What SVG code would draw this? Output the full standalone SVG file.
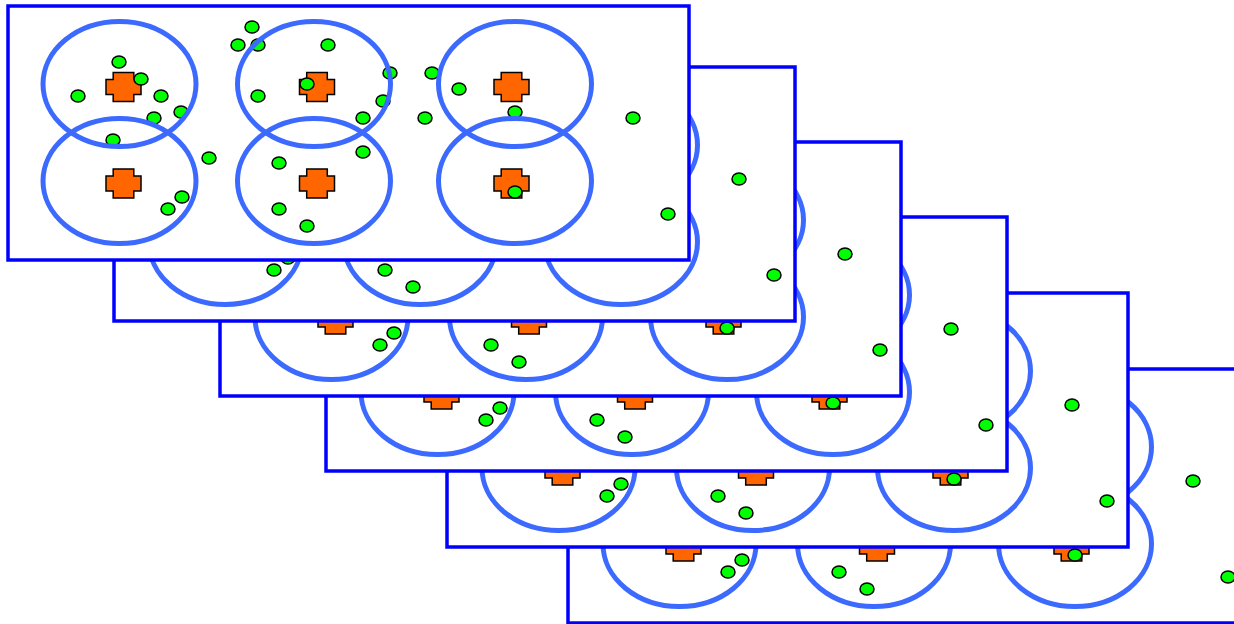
<svg xmlns="http://www.w3.org/2000/svg" xmlns:xlink="http://www.w3.org/1999/xlink" width="1234" height="624" viewBox="0 0 1234 624">
  <style>
    .frame { fill: #ffffff; stroke: #0000ff; stroke-width: 3.5; }
    .zone { fill: none; stroke: #3c6aff; stroke-width: 5; }
    .cross { fill: #ff6600; stroke: #000000; stroke-width: 1.5; }
    .dot { fill: #00ff00; stroke: #000000; stroke-width: 1.5; }
  </style>
  <defs>
    <path id="crossShape" class="cross" d="M-10.3,-14.5 H10.3 V-7.5 H17.5 V7.5 H10.3 V14.5 H-10.3 V7.5 H-17.5 V-7.5 H-10.3 Z"/>
    <g id="panel">
      <rect class="frame" x="8" y="6" width="681" height="254"/>
      <g class="crosses">
        <use href="#crossShape" x="123.5" y="87"/>
        <use href="#crossShape" x="317" y="87"/>
        <use href="#crossShape" x="511.5" y="87"/>
        <use href="#crossShape" x="123.5" y="183.5"/>
        <use href="#crossShape" x="317" y="183.5"/>
        <use href="#crossShape" x="511.5" y="183.5"/>
      </g>
      <g class="dots">
        <ellipse class="dot" cx="252" cy="27" rx="7" ry="6"/>
        <ellipse class="dot" cx="238" cy="45" rx="7" ry="6"/>
        <ellipse class="dot" cx="258" cy="45" rx="7" ry="6"/>
        <ellipse class="dot" cx="328" cy="45" rx="7" ry="6"/>
        <ellipse class="dot" cx="119" cy="62" rx="7" ry="6"/>
        <ellipse class="dot" cx="141" cy="79" rx="7" ry="6"/>
        <ellipse class="dot" cx="78" cy="96" rx="7" ry="6"/>
        <ellipse class="dot" cx="161" cy="96" rx="7" ry="6"/>
        <ellipse class="dot" cx="258" cy="96" rx="7" ry="6"/>
        <ellipse class="dot" cx="307" cy="84" rx="7" ry="6"/>
        <ellipse class="dot" cx="181" cy="112" rx="7" ry="6"/>
        <ellipse class="dot" cx="154" cy="118" rx="7" ry="6"/>
        <ellipse class="dot" cx="113" cy="140" rx="7" ry="6"/>
        <ellipse class="dot" cx="209" cy="158" rx="7" ry="6"/>
        <ellipse class="dot" cx="279" cy="163" rx="7" ry="6"/>
        <ellipse class="dot" cx="182" cy="197" rx="7" ry="6"/>
        <ellipse class="dot" cx="168" cy="209" rx="7" ry="6"/>
        <ellipse class="dot" cx="279" cy="209" rx="7" ry="6"/>
        <ellipse class="dot" cx="307" cy="226" rx="7" ry="6"/>
        <ellipse class="dot" cx="390" cy="73" rx="7" ry="6"/>
        <ellipse class="dot" cx="432" cy="73" rx="7" ry="6"/>
        <ellipse class="dot" cx="459" cy="89" rx="7" ry="6"/>
        <ellipse class="dot" cx="383" cy="101" rx="7" ry="6"/>
        <ellipse class="dot" cx="363" cy="118" rx="7" ry="6"/>
        <ellipse class="dot" cx="425" cy="118" rx="7" ry="6"/>
        <ellipse class="dot" cx="515" cy="112" rx="7" ry="6"/>
        <ellipse class="dot" cx="633" cy="118" rx="7" ry="6"/>
        <ellipse class="dot" cx="363" cy="152" rx="7" ry="6"/>
        <ellipse class="dot" cx="515" cy="192" rx="7" ry="6"/>
        <ellipse class="dot" cx="668" cy="214" rx="7" ry="6"/>
      </g>
      <g class="zones">
        <ellipse class="zone" cx="119.5" cy="84" rx="76.5" ry="62.5"/>
        <ellipse class="zone" cx="314" cy="84" rx="76.5" ry="62.5"/>
        <ellipse class="zone" cx="515" cy="84" rx="76.5" ry="62.5"/>
        <ellipse class="zone" cx="119.5" cy="181" rx="76.5" ry="62.5"/>
        <ellipse class="zone" cx="314" cy="181" rx="76.5" ry="62.5"/>
        <ellipse class="zone" cx="515" cy="181" rx="76.5" ry="62.5"/>
      </g>
    </g>
  </defs>
  <g id="frame6" transform="translate(560,363)"><use href="#panel"/></g>
  <g id="frame5" transform="translate(439,287)"><use href="#panel"/></g>
  <g id="frame4" transform="translate(318,211)"><use href="#panel"/></g>
  <g id="frame3" transform="translate(212,136)"><use href="#panel"/></g>
  <g id="frame2" transform="translate(106,61)"><use href="#panel"/></g>
  <g id="frame1"><use href="#panel"/></g>
  <g id="connectors"/>
</svg>
